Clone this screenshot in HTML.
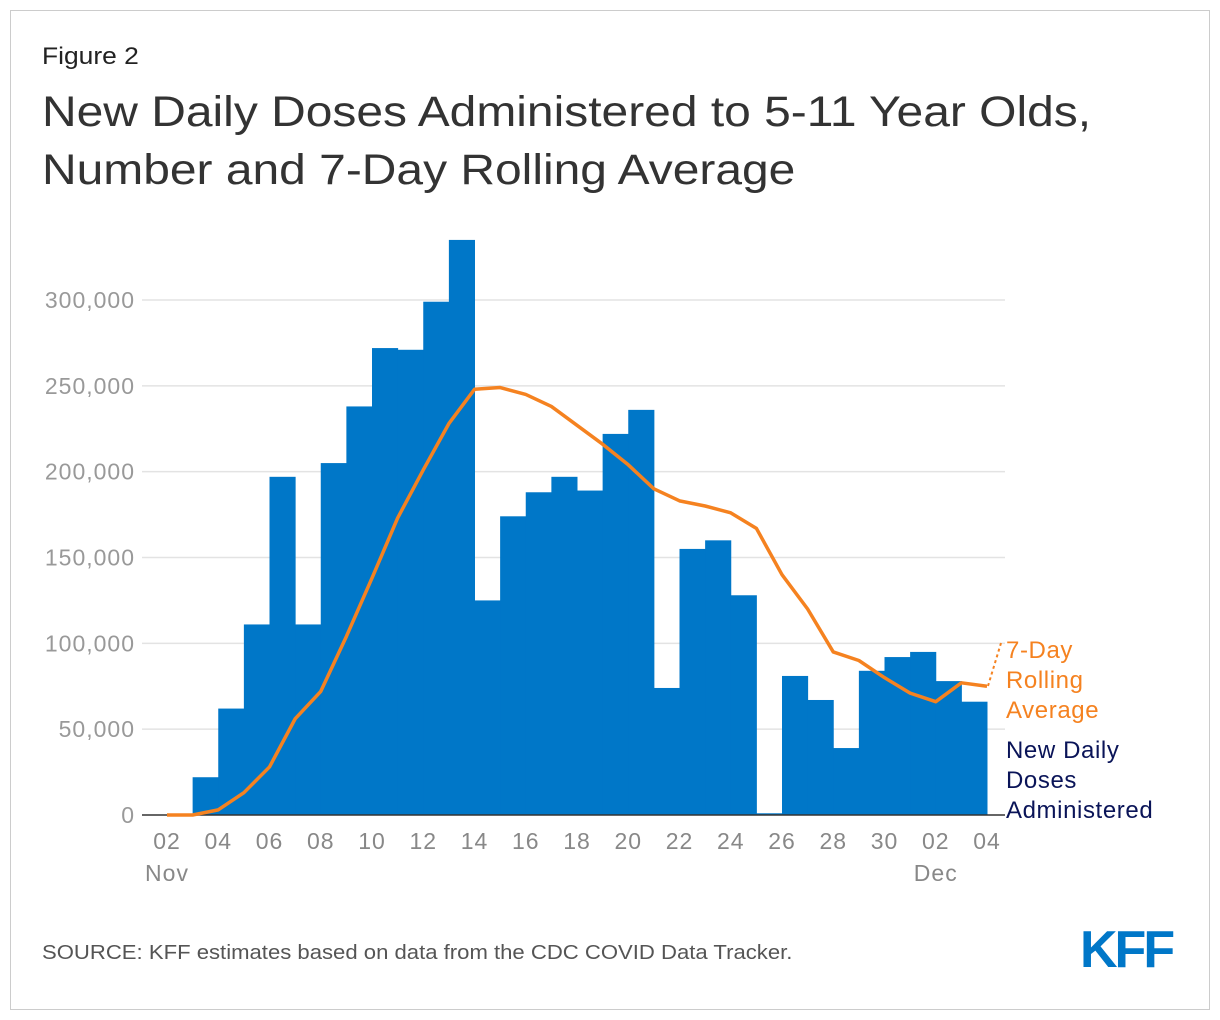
<!DOCTYPE html>
<html><head><meta charset="utf-8">
<style>
body{margin:0;background:#fff;font-family:"Liberation Sans",Arial,sans-serif;}
#wrap{position:relative;width:1220px;height:1020px;overflow:hidden;}
#frame{position:absolute;left:10px;top:10px;width:1198px;height:998px;border:1px solid #ccc;}
.t{position:absolute;margin:0;white-space:nowrap;transform-origin:left top;}
</style></head><body>
<div id="wrap">
<div id="frame"></div>
<div class="t" style="left:42px;top:43px;font-size:24px;color:#222;transform:scaleX(1.1);">Figure 2</div>
<div class="t" style="left:42px;top:83px;font-size:43px;line-height:58px;color:#333;transform:scaleX(1.115);">New Daily Doses Administered to 5-11 Year Olds,<br>Number and 7-Day Rolling Average</div>
<svg id="chart" width="1220" height="1020" style="position:absolute;left:0;top:0"></svg>
<div class="t" style="left:42px;top:942px;font-size:20px;color:#555;transform:scaleX(1.105);">SOURCE: KFF estimates based on data from the CDC COVID Data Tracker.</div>
<div class="t" style="left:1080px;top:920px;font-size:52px;font-weight:bold;color:#0077c8;letter-spacing:-3px;">KFF</div>
</div>
<script>
const barValues=[0,22000,62000,111000,197000,111000,205000,238000,272000,271000,299000,335000,125000,174000,188000,197000,189000,222000,236000,74000,155000,160000,128000,1000,81000,67000,39000,84000,92000,95000,78000,66000];
const avgValues=[0,0,3000,13000,28000,56000,72000,104000,138000,173000,201000,228000,248000,249000,245000,238000,227000,216000,204000,190000,183000,180000,176000,167000,140000,120000,95000,90000,80000,71000,66000,77000,75000];
const yTicks=[0,50000,100000,150000,200000,250000,300000];
const xTickLabels=["02","04","06","08","10","12","14","16","18","20","22","24","26","28","30","02","04"];
const NS="http://www.w3.org/2000/svg";
const svg=document.getElementById('chart');
const x0=167,dx=(987-167)/32;
const xs=i=>x0+i*dx;
const ys=v=>815-v*(515/300000);
function mk(tag,attrs){const e=document.createElementNS(NS,tag);for(const k in attrs)e.setAttribute(k,attrs[k]);svg.appendChild(e);return e;}
yTicks.forEach(v=>{
  if(v>0){const g=mk('line',{x1:142,x2:1005,y1:ys(v),y2:ys(v),stroke:'#e3e3e3','stroke-width':1.5});
  
  }
  const t=mk('text',{x:135,y:ys(v)+8,'text-anchor':'end','font-size':23,fill:'#999','letter-spacing':'1px'});
  t.textContent=v.toLocaleString('en-US');
  
  
});
barValues.forEach((v,i)=>{
  const b=mk('rect',{x:xs(i),y:ys(v),width:dx+0.5,height:815-ys(v),fill:'#0077c8'});
  
  
});
const base=mk('line',{x1:142,x2:1005,y1:815,y2:815,stroke:'#333','stroke-width':1.5});


const pl=mk('polyline',{points:avgValues.map((v,i)=>xs(i)+','+ys(v)).join(' '),fill:'none',stroke:'#f58220','stroke-width':3.5,'stroke-linejoin':'round'});


xTickLabels.forEach((l,i)=>{
  const t=mk('text',{x:xs(i*2),y:849,'text-anchor':'middle','font-size':23,fill:'#888','letter-spacing':'1px'});
  t.textContent=l;
  
  
});
[["Nov",0],["Dec",30]].forEach(([l,i])=>{
  const t=mk('text',{x:xs(i),y:881,'text-anchor':'middle','font-size':23,fill:'#888','letter-spacing':'1px'});
  t.textContent=l;
  
  
});
const ld=mk('line',{x1:988,y1:686,x2:1001,y2:643,stroke:'#f58220','stroke-width':2,'stroke-dasharray':'3,3'});


[["7-Day",658],["Rolling",688],["Average",718]].forEach(([l,y])=>{
  const t=mk('text',{x:1006,y:y,'font-size':24,fill:'#f58220','letter-spacing':'0.6px'});
  t.textContent=l;
  
  
});
[["New Daily",758],["Doses",788],["Administered",818]].forEach(([l,y])=>{
  const t=mk('text',{x:1006,y:y,'font-size':24,fill:'#0a1458','letter-spacing':'0.6px'});
  t.textContent=l;
  
  
});
</script>
</body></html>
